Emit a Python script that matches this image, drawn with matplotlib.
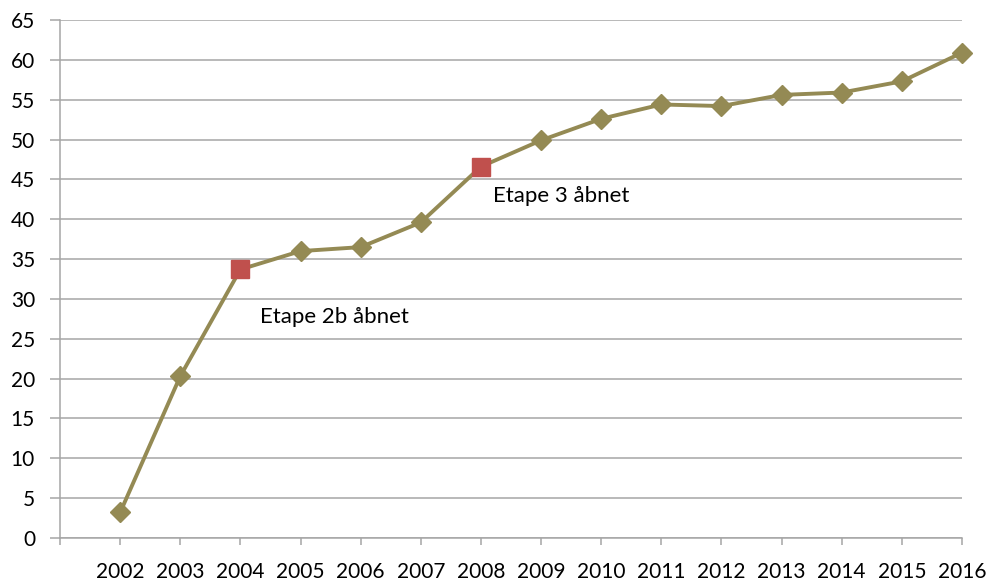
import matplotlib
matplotlib.use("Agg")
import matplotlib.pyplot as plt

# data
years = ["2002", "2003", "2004", "2005", "2006", "2007", "2008", "2009",
         "2010", "2011", "2012", "2013", "2014", "2015", "2016"]
values = [3.2, 20.3, 33.7, 36.0, 36.5, 39.6, 46.6, 49.9,
          52.6, 54.4, 54.2, 55.6, 55.9, 57.3, 60.9]
milestone_years = ["2004", "2008"]
milestone_labels = ["Etape 2b åbnet", "Etape 3 åbnet"]
y_ticks = list(range(0, 70, 5))

plt.rcParams["font.family"] = ["Lato", "DejaVu Sans"]

fig = plt.figure(figsize=(9.92, 5.82), dpi=100)
ax = fig.add_axes([60 / 992, 1 - 538 / 582, 902 / 992, 518 / 582])

# categories sit at 1..15, with an empty slot at 0 like the original
xpos = list(range(1, len(years) + 1))
milestone_idx = [years.index(yr) for yr in milestone_years]
plain_idx = [i for i in range(len(years)) if i not in milestone_idx]

line_color = "#948A54"
ax.plot(xpos, values, color=line_color, linewidth=2.8, marker="D",
        markersize=10, markevery=plain_idx, zorder=3, clip_on=False)

for i in milestone_idx:
    ax.plot(xpos[i], values[i], marker="s", markersize=12.5,
            color="#C0504D", markeredgecolor="#C0504D", zorder=4)

ax.annotate(milestone_labels[0], xy=(xpos[milestone_idx[0]], values[milestone_idx[0]]),
            xytext=(14, -34), textcoords="offset points",
            fontsize=16, va="center", ha="left")
ax.annotate(milestone_labels[1], xy=(xpos[milestone_idx[1]], values[milestone_idx[1]]),
            xytext=(9, -21), textcoords="offset points",
            fontsize=16, va="center", ha="left")

# ---------------------------------------------------
# AXES STYLING
# ---------------------------------------------------

ax.set_xlim(0, len(years))
ax.set_ylim(0, 65)
ax.set_yticks(y_ticks)
ax.set_xticks([0] + xpos)
ax.set_xticklabels([""] + years)

grid_color = "#A6A6A6"
ax.grid(axis="y", color=grid_color, linewidth=1.1)
ax.set_axisbelow(True)

for side in ["top", "right"]:
    ax.spines[side].set_visible(False)
ax.spines["left"].set_color(grid_color)
ax.spines["bottom"].set_color(grid_color)
ax.spines["left"].set_linewidth(1.1)
ax.spines["bottom"].set_linewidth(1.1)

ax.tick_params(axis="y", length=7, width=1.1, color=grid_color,
               labelsize=15, pad=11)
ax.tick_params(axis="x", length=5, width=1.1, color=grid_color,
               labelsize=15, pad=12)

plt.savefig("out.png", dpi=100)
plt.close()
